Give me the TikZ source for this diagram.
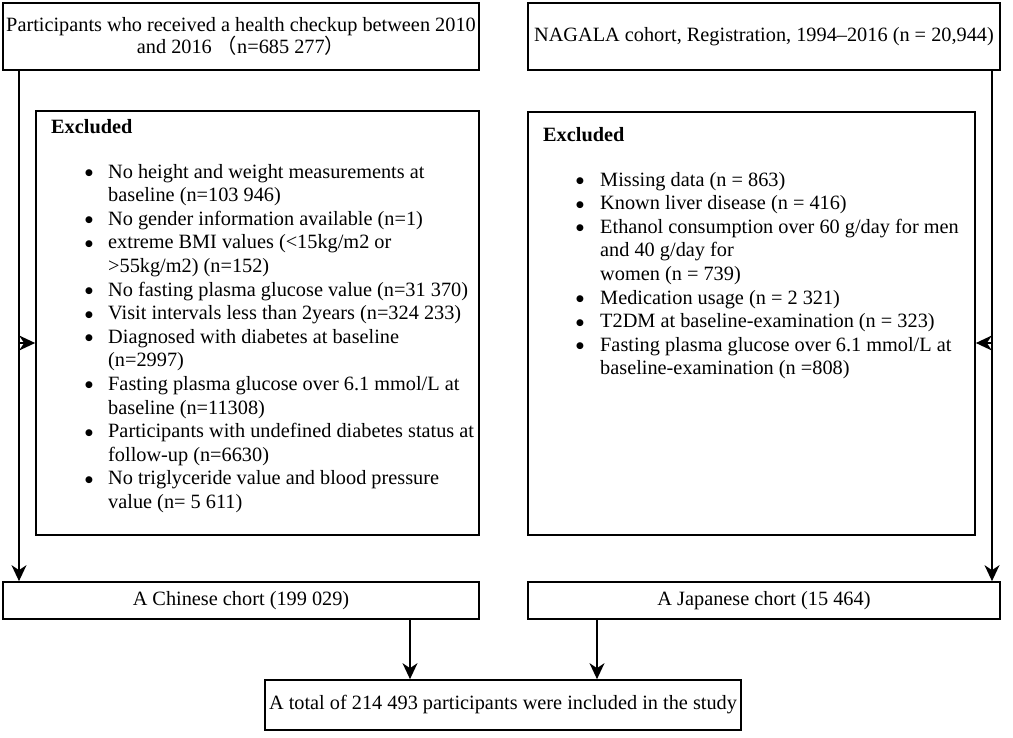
\documentclass[tikz,border=0pt]{standalone}
\usepackage{fontspec}
\setmainfont{Liberation Serif}
\newfontfamily\cjk{Noto Sans CJK SC}
\newfontfamily\dv{DejaVu Sans}
\newcommand{\blt}{\raisebox{2.6pt}{\dv\fontsize{9}{9}\selectfont ●}}
\usetikzlibrary{arrows.meta}
\begin{document}
\begin{tikzpicture}[x=1pt,y=-1pt,
  txt/.style={font=\fontsize{20.3}{23.6}\selectfont},
  box/.style={draw, line width=1.7pt, inner sep=0pt, txt},
  arr/.style={line width=1.5pt, -{Stealth[length=16pt,width=15pt,inset=5pt]}}]
\useasboundingbox (0,0) rectangle (1013,737);
% top boxes
\node[box, minimum width=476pt, minimum height=67pt, align=center] (topL) at (241,36.5)
  {Participants who received a health checkup between 2010\\[-1.5pt] and 2016 {\cjk （}n=685 277{\cjk ）}};
\node[box, minimum width=472pt, minimum height=67pt] (topR) at (764,36.5)
  {NAGALA cohort, Registration, 1994–2016 (n = 20,944)};
% excluded boxes
\node[box, minimum width=443pt, minimum height=424pt] (exL) at (257.5,323) {};
\node[box, minimum width=447pt, minimum height=423pt] (exR) at (751.5,323.5) {};
\node[txt, anchor=base west, inner sep=0pt] (exLh) at (51,133) {\bfseries Excluded};
\node[txt, anchor=base west, inner sep=0pt] (exRh) at (543,141) {\bfseries Excluded};
\node[txt, anchor=base west, inner sep=0pt] (exLl) at (85,178)
 {\begin{tabular}[t]{@{}l@{}l@{}}
  \makebox[23pt][l]{\blt} & No height and weight measurements at\\
   & baseline (n=103 946)\\
  \blt & No gender information available (n=1)\\
  \blt & extreme BMI values (<15kg/m2 or\\
   & >55kg/m2) (n=152)\\
  \blt & No fasting plasma glucose value (n=31 370)\\
  \blt & Visit intervals less than 2years (n=324 233)\\
  \blt & Diagnosed with diabetes at baseline\\
   & (n=2997)\\
  \blt & Fasting plasma glucose over 6.1 mmol/L at\\
   & baseline (n=11308)\\
  \blt & Participants with undefined diabetes status at\\
   & follow-up (n=6630)\\
  \blt & No triglyceride value and blood pressure\\
   & value (n= 5 611)
 \end{tabular}};
\node[txt, anchor=base west, inner sep=0pt] (exRl) at (576,186)
 {\begin{tabular}[t]{@{}l@{}l@{}}
  \makebox[24pt][l]{\blt} & Missing data (n = 863)\\
  \blt & Known liver disease (n = 416)\\
  \blt & Ethanol consumption over 60 g/day for men\\
   & and 40 g/day for\\
   & women (n = 739)\\
  \blt & Medication usage (n = 2 321)\\
  \blt & T2DM at baseline-examination (n = 323)\\
  \blt & Fasting plasma glucose over 6.1 mmol/L at\\
   & baseline-examination (n =808)
 \end{tabular}};
% cohort boxes
\node[box, minimum width=476pt, minimum height=37pt] (chn) at (241,600.5) {A Chinese chort (199 029)};
\node[box, minimum width=472pt, minimum height=37pt] (jpn) at (764,600.5) {A Japanese chort (15 464)};
\node[box, minimum width=476pt, minimum height=50pt] (total) at (503,705) {A total of 214 493 participants were included in the study};
% connectors
\coordinate (ls) at (19,343);
\coordinate (rs) at (992,343);
\draw[arr] (ls |- topL.south) -- (ls |- chn.north);
\draw[arr] (rs |- topR.south) -- (rs |- jpn.north);
\draw[arr] (ls) -- (ls -| exL.west);
\draw[arr] (rs) -- (rs -| exR.east);
\coordinate (cb) at (410,619);
\coordinate (jb) at (597,619);
\draw[arr] (cb |- chn.south) -- (cb |- total.north);
\draw[arr] (jb |- jpn.south) -- (jb |- total.north);
\end{tikzpicture}
\end{document}
